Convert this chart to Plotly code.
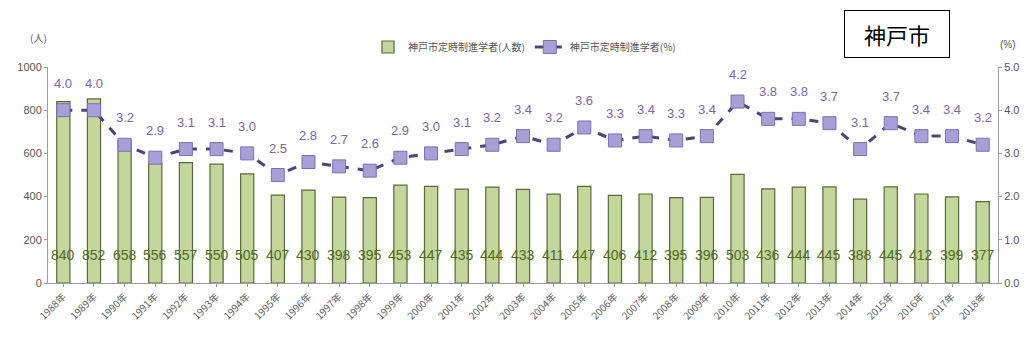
import plotly.graph_objects as go

years = [f"{y}年" for y in range(1988, 2019)]
students = [840, 852, 658, 556, 557, 550, 505, 407, 430, 398, 395, 453, 447, 435, 444,
            433, 411, 447, 406, 412, 395, 396, 503, 436, 444, 445, 388, 445, 412, 399, 377]
rate = [4.0, 4.0, 3.2, 2.9, 3.1, 3.1, 3.0, 2.5, 2.8, 2.7, 2.6, 2.9, 3.0, 3.1, 3.2,
        3.4, 3.2, 3.6, 3.3, 3.4, 3.3, 3.4, 4.2, 3.8, 3.8, 3.7, 3.1, 3.7, 3.4, 3.4, 3.2]
left_ticks = [0, 200, 400, 600, 800, 1000]
right_ticks = [0.0, 1.0, 2.0, 3.0, 4.0, 5.0]

num_font = "Liberation Sans Narrow, Arial Narrow, Liberation Sans, sans-serif"
jp_font = "Noto Sans CJK JP, sans-serif"

L, R, T, B = 48, 32, 67, 62
W, H = 1030, 345
pw, ph = W - L - R, H - T - B


def px_x(px):
    return (px - L) / pw


def px_y(py):
    return (H - B - py) / ph


fig = go.Figure()
fig.add_trace(go.Bar(
    x=years, y=students, name="神戸市定時制進学者(人数)",
    marker=dict(color="#c3d69b", line=dict(color="#5a6a3a", width=1.2)),
    width=0.43, yaxis="y",
))
fig.add_trace(go.Scatter(
    x=years, y=rate, name="神戸市定時制進学者(%)", mode="lines+markers",
    line=dict(color="#4b4478", width=3, dash="dash"),
    marker=dict(symbol="square", size=13, color="#a89fd6", line=dict(color="#7b70b5", width=1)),
    yaxis="y2",
))

annotations = []
# counts written near the foot of each bar
for x, v in zip(years, students):
    annotations.append(dict(x=x, y=130, xref="x", yref="y", text=str(v), showarrow=False,
                            font=dict(family=num_font, size=14, color="#4f6b22")))
# percentages above each marker
for x, v in zip(years, rate):
    annotations.append(dict(x=x, y=v, xref="x", yref="y2", text=f"{v:.1f}", showarrow=False,
                            yshift=27, font=dict(family=num_font, size=13, color="#8064a8")))
annotations += [
    dict(x=px_x(38), y=px_y(37), xref="paper", yref="paper", text="(人)", showarrow=False,
         xanchor="center", yanchor="middle", font=dict(family=jp_font, size=10, color="#555555")),
    dict(x=px_x(1008), y=px_y(44), xref="paper", yref="paper", text="(%)", showarrow=False,
         xanchor="center", yanchor="middle", font=dict(family=num_font, size=10, color="#555555")),
    dict(x=px_x(897), y=px_y(34), xref="paper", yref="paper", text="神戸市", showarrow=False,
         xanchor="center", yanchor="middle", width=100, height=42, align="center",
         font=dict(family=jp_font, size=22, color="#000000"),
         bordercolor="#000000", borderwidth=1, borderpad=2, bgcolor="#ffffff"),
]

axis_line = dict(showline=True, linecolor="#9a9ab0", ticks="outside", ticklen=3,
                 tickcolor="#9a9ab0", showgrid=False, automargin=False)

fig.update_layout(
    width=W, height=H,
    margin=dict(l=L, r=R, t=T, b=B, autoexpand=False),
    paper_bgcolor="#ffffff", plot_bgcolor="#ffffff",
    showlegend=True,
    legend=dict(orientation="h", x=px_x(368), xanchor="left", y=px_y(47), yanchor="middle",
                font=dict(family=jp_font, size=10, color="#555555"),
                bgcolor="rgba(0,0,0,0)"),
    xaxis=dict(tickangle=-45, tickfont=dict(family=jp_font, size=10, color="#5a5a5a"),
               range=[-0.5, 30.5], **axis_line),
    yaxis=dict(range=[0, 1000], tickvals=left_ticks,
               tickfont=dict(family=num_font, size=11, color="#555555"),
               zeroline=False, **axis_line),
    yaxis2=dict(range=[0, 5], tickvals=right_ticks, tickformat=".1f", overlaying="y", side="right",
                tickfont=dict(family=num_font, size=11, color="#555555"),
                zeroline=False, **axis_line),
    annotations=annotations,
)

fig.write_html("out.html")
